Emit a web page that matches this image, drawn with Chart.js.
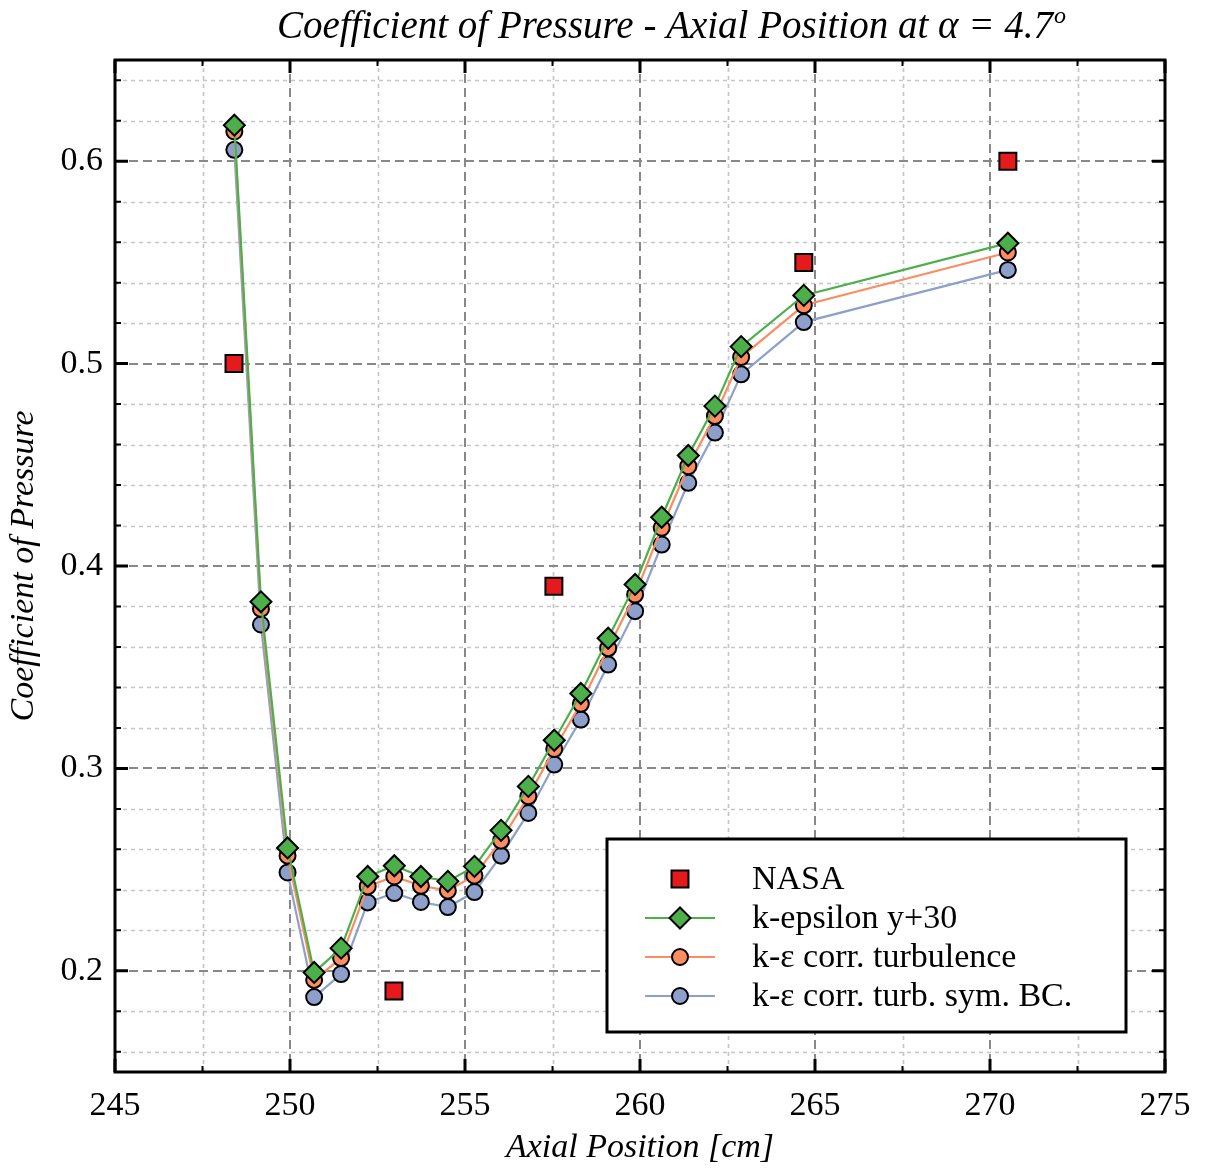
<!DOCTYPE html>
<html>
<head>
<meta charset="utf-8">
<script src="https://cdn.jsdelivr.net/npm/chart.js@4.4.0/dist/chart.umd.min.js"></script>
<style>
  html, body { margin: 0; padding: 0; background: #fff; }
</style>
</head>
<body>
<canvas id="cpChart" width="1209" height="1168"></canvas>
<script>
// NASA measurements
var nasaX = [248.40, 252.97, 257.54, 264.68, 270.51];
var nasaCp = [0.500, 0.190, 0.390, 0.550, 0.600];

// CFD probe positions [cm]
var simX = [248.41, 249.17, 249.93, 250.69, 251.46, 252.22, 252.98, 253.74, 254.51, 255.27, 256.03,
            256.81, 257.55, 258.31, 259.09, 259.86, 260.62, 261.38, 262.14, 262.89, 264.68, 270.51];

var kEpsY30 = [0.6178, 0.3823, 0.2607, 0.1992, 0.2112, 0.2466, 0.2519, 0.2466, 0.2442, 0.2516, 0.2694,
               0.2911, 0.3139, 0.3370, 0.3643, 0.3909, 0.4241, 0.4546, 0.4790, 0.5084, 0.5337, 0.5595];
var kEpsCorrTurb = [0.6147, 0.3788, 0.2569, 0.1955, 0.2063, 0.2417, 0.2466, 0.2420, 0.2396, 0.2470, 0.2643,
                    0.2862, 0.3096, 0.3319, 0.3594, 0.3859, 0.4189, 0.4493, 0.4741, 0.5032, 0.5288, 0.5549];
var kEpsCorrTurbSym = [0.6056, 0.3711, 0.2486, 0.1870, 0.1984, 0.2338, 0.2384, 0.2340, 0.2315, 0.2389, 0.2569,
                       0.2780, 0.3019, 0.3241, 0.3513, 0.3777, 0.4106, 0.4411, 0.4659, 0.4947, 0.5205, 0.5463];

var xTickLabels = [245, 250, 255, 260, 265, 270, 275];
var yTickLabels = [0.2, 0.3, 0.4, 0.5, 0.6];

function pts(xs, ys) {
    var out = [];
    for (var i = 0; i < xs.length; i++) {
        out.push({x: xs[i], y: ys[i]});
    }
    return out;
}

var serif = '"Liberation Serif", "Times New Roman", serif';

// grid, framed axes with inward ticks, boxed legend, title
var framePlugin = {
    id: 'frame',
    beforeDatasetsDraw: function (chart) {
        var ctx = chart.ctx, a = chart.chartArea;
        var xs = chart.scales.x, ys = chart.scales.y;
        ctx.save();
        // minor dotted grid
        ctx.strokeStyle = '#c6c6c6';
        ctx.lineWidth = 1.7;
        ctx.setLineDash([4, 4]);
        ctx.beginPath();
        for (var x = 247.5; x < 275; x += 5) {
            var px = Math.round(xs.getPixelForValue(x)) + 0.5;
            ctx.moveTo(px, a.top); ctx.lineTo(px, a.bottom);
        }
        for (var k = 16; k <= 64; k += 2) {
            if (k % 10 === 0) continue;
            var py = Math.round(ys.getPixelForValue(k / 100)) + 0.5;
            ctx.moveTo(a.left, py); ctx.lineTo(a.right, py);
        }
        ctx.stroke();
        // major dashed grid
        ctx.strokeStyle = '#888';
        ctx.lineWidth = 2;
        ctx.setLineDash([9, 5]);
        ctx.beginPath();
        for (var x2 = 250; x2 < 275; x2 += 5) {
            var px2 = Math.round(xs.getPixelForValue(x2));
            ctx.moveTo(px2, a.top); ctx.lineTo(px2, a.bottom);
        }
        for (var j = 0; j < yTickLabels.length; j++) {
            var py2 = Math.round(ys.getPixelForValue(yTickLabels[j]));
            ctx.moveTo(a.left, py2); ctx.lineTo(a.right, py2);
        }
        ctx.stroke();
        ctx.restore();
    },
    afterDatasetsDraw: function (chart) {
        var ctx = chart.ctx, a = chart.chartArea;
        var xs = chart.scales.x, ys = chart.scales.y;
        ctx.save();
        ctx.setLineDash([]);
        ctx.strokeStyle = '#000';

        // ticks, inward on all four sides
        function tick(horizontal, v, len, w) {
            ctx.lineWidth = w;
            ctx.beginPath();
            if (horizontal) {
                var p = xs.getPixelForValue(v);
                ctx.moveTo(p, a.bottom); ctx.lineTo(p, a.bottom - len);
                ctx.moveTo(p, a.top); ctx.lineTo(p, a.top + len);
            } else {
                var q = ys.getPixelForValue(v);
                ctx.moveTo(a.left, q); ctx.lineTo(a.left + len, q);
                ctx.moveTo(a.right, q); ctx.lineTo(a.right - len, q);
            }
            ctx.stroke();
        }
        for (var x = 245; x <= 275; x += 2.5) {
            var major = (x % 5 === 0);
            tick(true, x, major ? 13 : 6, major ? 3 : 2);
        }
        for (var k = 16; k <= 64; k += 2) {
            var maj = (k % 10 === 0);
            tick(false, k / 100, maj ? 13 : 6, maj ? 3 : 2);
        }

        // frame
        ctx.lineWidth = 3;
        ctx.strokeRect(a.left, a.top, a.right - a.left, a.bottom - a.top);

        // legend box
        var bx = 607, by = 839, bw = 519, bh = 193;
        ctx.fillStyle = '#fff';
        ctx.fillRect(bx, by, bw, bh);
        ctx.lineWidth = 3;
        ctx.strokeRect(bx, by, bw, bh);
        var rows = [879, 918, 957, 996];
        var mx = 680;
        ctx.font = '34px ' + serif;
        ctx.textBaseline = 'middle';
        ctx.textAlign = 'left';
        chart.data.datasets.forEach(function (ds, i) {
            var yy = rows[i];
            if (ds.showLine !== false) {
                ctx.strokeStyle = ds.borderColor;
                ctx.lineWidth = ds.borderWidth;
                ctx.beginPath();
                ctx.moveTo(645, yy); ctx.lineTo(715, yy);
                ctx.stroke();
            }
            ctx.fillStyle = ds.pointBackgroundColor;
            ctx.strokeStyle = ds.pointBorderColor;
            ctx.lineWidth = ds.pointBorderWidth;
            Chart.helpers.drawPoint(ctx, {
                pointStyle: ds.pointStyle,
                radius: ds.pointRadius,
                borderWidth: ds.pointBorderWidth,
                rotation: 0
            }, mx, yy);
            ctx.fillStyle = '#000';
            ctx.fillText(ds.label, 752, yy + 1);
        });

        // title with superscript
        var main = 'Coefficient of Pressure - Axial Position at \u03b1 = 4.7';
        ctx.font = 'italic 39px ' + serif;
        var w1 = ctx.measureText(main).width;
        ctx.font = 'italic 24px ' + serif;
        var w2 = ctx.measureText('o').width;
        var x0 = 671 - (w1 + w2) / 2;
        ctx.fillStyle = '#000';
        ctx.textBaseline = 'middle';
        ctx.font = 'italic 39px ' + serif;
        ctx.fillText(main, x0, 28);
        ctx.font = 'italic 24px ' + serif;
        ctx.fillText('o', x0 + w1 + 1, 17);
        ctx.restore();
    }
};

var ctx = document.getElementById('cpChart').getContext('2d');
var cpChart = new Chart(ctx, {
    type: 'scatter',
    data: {
        datasets: [{
            label: 'NASA',
            data: pts(nasaX, nasaCp),
            showLine: false,
            pointStyle: 'rect',
            pointRadius: 12,
            pointHoverRadius: 12,
            pointBackgroundColor: '#e41a1c',
            pointBorderColor: '#000',
            pointBorderWidth: 2,
            borderColor: '#e41a1c',
            borderWidth: 2
        }, {
            label: 'k-epsilon y+30',
            data: pts(simX, kEpsY30),
            showLine: true,
            borderColor: '#4daf4a',
            borderWidth: 2.2,
            pointStyle: 'rectRot',
            pointRadius: 10.5,
            pointHoverRadius: 10.5,
            pointBackgroundColor: '#4daf4a',
            pointBorderColor: '#000',
            pointBorderWidth: 2
        }, {
            label: 'k-\u03b5 corr. turbulence',
            data: pts(simX, kEpsCorrTurb),
            showLine: true,
            borderColor: '#fc8d62',
            borderWidth: 2.2,
            pointStyle: 'circle',
            pointRadius: 8,
            pointHoverRadius: 8,
            pointBackgroundColor: '#fc8d62',
            pointBorderColor: '#000',
            pointBorderWidth: 2
        }, {
            label: 'k-\u03b5 corr. turb. sym. BC.',
            data: pts(simX, kEpsCorrTurbSym),
            showLine: true,
            borderColor: '#8da0cb',
            borderWidth: 2.2,
            pointStyle: 'circle',
            pointRadius: 8,
            pointHoverRadius: 8,
            pointBackgroundColor: '#8da0cb',
            pointBorderColor: '#000',
            pointBorderWidth: 2
        }]
    },
    options: {
        responsive: false,
        animation: false,
        devicePixelRatio: 1,
        layout: {padding: {top: 60, right: 44, left: 0, bottom: 0}},
        plugins: {
            legend: {display: false},
            title: {display: false},
            tooltip: {enabled: false}
        },
        scales: {
            x: {
                type: 'linear',
                min: 245,
                max: 275,
                grid: {display: false},
                border: {display: false},
                ticks: {
                    stepSize: 2.5,
                    autoSkip: false,
                    maxRotation: 0,
                    padding: 6,
                    color: '#000',
                    font: {family: serif, size: 34},
                    callback: function (v) {
                        return xTickLabels.indexOf(v) >= 0 ? String(v) : '';
                    }
                },
                title: {
                    display: true,
                    text: 'Axial Position [cm]',
                    color: '#000',
                    font: {family: serif, size: 34, style: 'italic'},
                    padding: {top: 0, bottom: 0}
                },
                afterFit: function (s) { s.height = 96; }
            },
            y: {
                type: 'linear',
                min: 0.15,
                max: 0.65,
                grid: {display: false},
                border: {display: false},
                ticks: {
                    stepSize: 0.01,
                    autoSkip: false,
                    padding: 4,
                    color: '#000',
                    font: {family: serif, size: 34},
                    callback: function (v) {
                        for (var i = 0; i < yTickLabels.length; i++) {
                            if (Math.abs(v - yTickLabels[i]) < 1e-6) return yTickLabels[i].toFixed(1);
                        }
                        return '';
                    }
                },
                title: {
                    display: true,
                    text: 'Coefficient of Pressure',
                    color: '#000',
                    font: {family: serif, size: 34, style: 'italic'},
                    padding: {top: 4, bottom: 0}
                },
                afterFit: function (s) { s.width = 115; }
            }
        }
    },
    plugins: [framePlugin]
});
</script>
</body>
</html>
